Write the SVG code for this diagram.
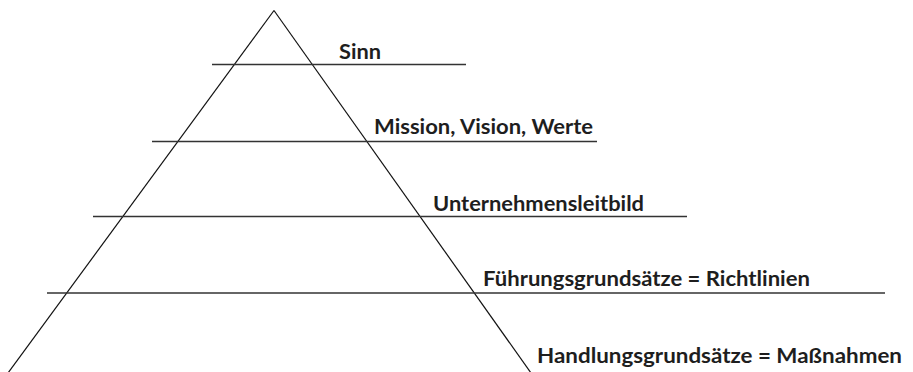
<svg xmlns="http://www.w3.org/2000/svg" width="913" height="372" viewBox="0 0 913 372">
  <style>
    .edge { stroke: #111; stroke-width: 1.2; fill: none; }
    .level { stroke: #333; stroke-width: 1.7; fill: none; }
    .label { font-family: Lato, "Liberation Sans", sans-serif; font-weight: bold; font-size: 21px; fill: #1e1e1e; }
  </style>
  <rect width="913" height="372" fill="#fff"/>
  <g id="pyramid">
    <line class="edge" x1="274" y1="10.5" x2="8" y2="373"/>
    <line class="edge" x1="274" y1="10.5" x2="531" y2="373"/>
  </g>
  <g id="connectors">
    <line class="level" x1="212" y1="64.5" x2="466" y2="64.5"/>
    <line class="level" x1="152" y1="141.5" x2="597" y2="141.5"/>
    <line class="level" x1="93" y1="216.5" x2="687" y2="216.5"/>
    <line class="level" x1="47" y1="293" x2="885" y2="293"/>
  </g>
  <g id="sinn">
    <text class="label" x="339" y="59" textLength="42" lengthAdjust="spacingAndGlyphs">Sinn</text>
  </g>
  <g id="mission">
    <text class="label" x="374" y="134" textLength="219" lengthAdjust="spacingAndGlyphs">Mission, Vision, Werte</text>
  </g>
  <g id="leitbild">
    <text class="label" x="433" y="210.5" textLength="211" lengthAdjust="spacingAndGlyphs">Unternehmensleitbild</text>
  </g>
  <g id="fuehrung">
    <text class="label" x="483" y="286" textLength="327" lengthAdjust="spacingAndGlyphs">Führungsgrundsätze = Richtlinien</text>
  </g>
  <g id="handlung">
    <text class="label" x="537" y="362.5" textLength="365" lengthAdjust="spacingAndGlyphs">Handlungsgrundsätze = Maßnahmen</text>
  </g>
</svg>
